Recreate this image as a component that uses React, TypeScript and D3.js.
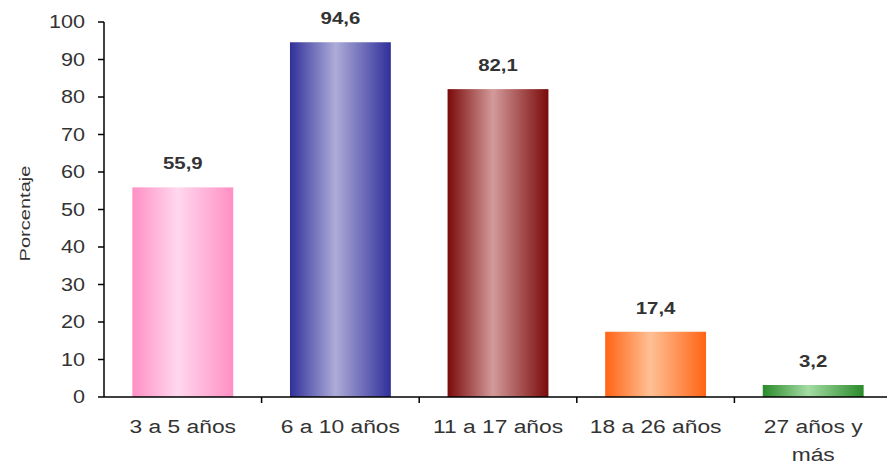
import React from "react";
import * as d3 from "d3";

const categories = ["3 a 5 años", "6 a 10 años", "11 a 17 años", "18 a 26 años", "27 años y más"];
const values = [55.9, 94.6, 82.1, 17.4, 3.2];
const yTicks = [0, 10, 20, 30, 40, 50, 60, 70, 80, 90, 100];
const barColors = [
  { edge: "#ff8fc4", mid: "#ffd8ee" },
  { edge: "#30309a", mid: "#adacd8" },
  { edge: "#7a0a0a", mid: "#d39a9a" },
  { edge: "#ff6414", mid: "#ffc095" },
  { edge: "#2a8a2a", mid: "#a4dca4" },
];

export default function App() {
  const width = 887;
  const height = 466;
  const margin = { top: 22, left: 104, bottom: 69 };

  const x = d3
    .scaleBand()
    .domain(categories)
    .range([margin.left, margin.left + 5 * 157.6])
    .paddingInner(0.36)
    .paddingOuter(0.18);

  const y = d3
    .scaleLinear()
    .domain([0, 100])
    .range([height - margin.bottom, margin.top]);

  const fmt = (v: number) => v.toFixed(1).replace(".", ",");
  const step = x.step();
  const font = "'Liberation Sans', Arial, sans-serif";
  // the source image is stretched sideways, so text is widened a little
  const sx = 1.2;

  return (
    <svg
      width={width}
      height={height}
      style={{ position: "absolute", left: 0, top: 0, background: "#fff" }}
      fontFamily={font}
    >
      <defs>
        {barColors.map((c, i) => (
          <linearGradient key={i} id={`g${i}`} x1="0" x2="1" y1="0" y2="0">
            <stop offset="0" stopColor={c.edge} />
            <stop offset="0.45" stopColor={c.mid} />
            <stop offset="1" stopColor={c.edge} />
          </linearGradient>
        ))}
      </defs>

      <g className="plot-area">
        {categories.map((c, i) => (
          <g key={c}>
            <rect
              x={x(c)}
              y={y(values[i])}
              width={x.bandwidth()}
              height={y(0) - y(values[i])}
              fill={`url(#g${i})`}
            />
            <text
              transform={`translate(${(x(c) as number) + x.bandwidth() / 2},${y(values[i]) - 18}) scale(${sx},1)`}
              textAnchor="middle"
              fontSize={17}
              fontWeight="bold"
              fill="#333"
            >
              {fmt(values[i])}
            </text>
          </g>
        ))}
      </g>

      <g className="y-axis">
        <line x1={margin.left} x2={margin.left} y1={y(0)} y2={y(100)} stroke="#000" strokeWidth={1.5} />
        {yTicks.map((t) => (
          <g key={t}>
            <line x1={margin.left - 6} x2={margin.left} y1={y(t)} y2={y(t)} stroke="#000" strokeWidth={1.5} />
            <text
              transform={`translate(${margin.left - 19},${y(t)}) scale(${sx},1)`}
              dy="0.36em"
              textAnchor="end"
              fontSize={18}
              fill="#333"
            >
              {t}
            </text>
          </g>
        ))}
        <text
          transform={`translate(30,${(y(0) + y(100)) / 2 + 4}) rotate(-90)`}
          textAnchor="middle"
          fontSize={15}
          textLength={96}
          lengthAdjust="spacingAndGlyphs"
          fill="#333"
        >
          Porcentaje
        </text>
      </g>

      <g className="x-axis">
        <line x1={margin.left} x2={width + 10} y1={y(0)} y2={y(0)} stroke="#000" strokeWidth={1.5} />
        {categories.map((c, i) => {
          const left = margin.left + i * step;
          const cx = left + step / 2;
          const lines = c === "27 años y más" ? ["27 años y", "más"] : [c];
          return (
            <g key={c}>
              {i > 0 && (
                <line x1={left} x2={left} y1={y(0)} y2={y(0) + 6} stroke="#000" strokeWidth={1.5} />
              )}
              {lines.map((l, j) => (
                <text
                  key={l}
                  transform={`translate(${cx},${y(0) + 36 + j * 28}) scale(${sx},1)`}
                  textAnchor="middle"
                  fontSize={19}
                  fill="#333"
                >
                  {l}
                </text>
              ))}
            </g>
          );
        })}
      </g>
    </svg>
  );
}
